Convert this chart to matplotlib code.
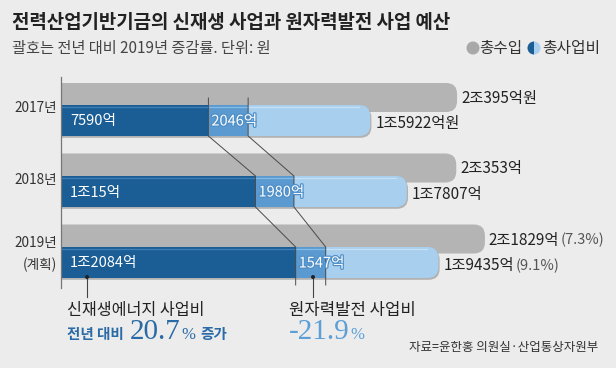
import matplotlib
matplotlib.use('Agg')
import matplotlib.pyplot as plt
from matplotlib.patches import FancyBboxPatch, Circle, Wedge
import matplotlib.patheffects as pe

plt.rcParams['font.family'] = ['Noto Sans CJK KR', 'DejaVu Sans']

# data (단위: 억원)
years = ['2017년', '2018년', '2019년']
renew = [7590, 10015, 12084]          # 신재생에너지 사업비
nuclear = [2046, 1980, 1547]          # 원자력발전 사업비
total_exp = [15922, 17807, 19435]     # 총사업비
revenue = [20395, 20353, 21829]       # 총수입
renew_labels = ['7590억', '1조15억', '1조2084억']
nuclear_labels = ['2046억', '1980억', '1547억']
exp_labels = ['1조5922억원', '1조7807억', '1조9435억']
rev_labels = ['2조395억원', '2조353억', '2조1829억']
rev_pct = ['', '', '(7.3%)']
exp_pct = ['', '', '(9.1%)']

BG = '#ececec'
GRAY = '#b4b4b4'
DARK = '#1b5e95'
MID = '#5a9ad0'
LIGHT = '#a9cfee'
TXT = '#222222'

W, H = 616, 368
fig = plt.figure(figsize=(W / 100, H / 100), dpi=100, facecolor=BG)
renderer = fig.canvas.get_renderer()

# main axes: x in 억원, y in pixels from top
X0 = 61
K = 1 / 0.01942  # 억원 per pixel
ax = fig.add_axes([X0 / W, 0, (W - X0) / W, 1])
ax.set_xlim(0, (W - X0) * K)
ax.set_ylim(H, 0)
ax.axis('off')

# overlay axes in pixels for free text
ov = fig.add_axes([0, 0, 1, 1], zorder=5)
ov.set_xlim(0, W)
ov.set_ylim(H, 0)
ov.axis('off')
ov.patch.set_alpha(0)

gray_y = [97.5, 168, 239]
blue_y = [120.5, 191.5, 262.5]
gh, bh = 29, 31
R = 11 * K


def rounded(x_end, yc, h, color, z, shadow=True):
    if shadow:
        s = FancyBboxPatch((-R, yc - h / 2 + 1.8), x_end + R + 1.2 * K, h,
                           boxstyle='round,pad=0,rounding_size=%f' % R,
                           mutation_aspect=1 / K, fc='#8c8c8c', ec='none',
                           zorder=z - 0.5, alpha=0.6)
        ax.add_patch(s)
    p = FancyBboxPatch((-R, yc - h / 2), x_end + R, h,
                       boxstyle='round,pad=0,rounding_size=%f' % R,
                       mutation_aspect=1 / K, fc=color, ec='none', zorder=z)
    ax.add_patch(p)


def fit(t, width):
    # scale font so the text is `width` pixels wide
    bb = t.get_window_extent(renderer=renderer)
    t.set_fontsize(t.get_fontsize() * width / bb.width)
    return t


def seq(parts, x, y):
    # place text pieces one after another on the same baseline
    for s, gap, kw in parts:
        x += gap
        t = ov.text(x, y, s, ha='left', va='baseline', **kw)
        bb = t.get_window_extent(renderer=renderer)
        x = ov.transData.inverted().transform((bb.x1, bb.y0))[0]


for i in range(3):
    rounded(revenue[i], gray_y[i], gh, GRAY, 1, shadow=False)
    rounded(total_exp[i], blue_y[i], bh, LIGHT, 3)
ax.barh(blue_y, renew, height=bh, color=DARK, zorder=4)
ax.barh(blue_y, nuclear, left=renew, height=bh, color=MID, zorder=4)
# highlight line at top of blue bars
for i in range(3):
    hy = [blue_y[i] - bh / 2 + 2.2] * 2
    ax.plot([0, renew[i]], hy, color='#3f7fb6', lw=0.9, zorder=4.5)
    ax.plot([renew[i], renew[i] + nuclear[i]], hy, color='#86bbe6', lw=0.9, zorder=4.5)
    ax.plot([renew[i] + nuclear[i], total_exp[i] - R], hy, color='#c6e0f5', lw=0.9, zorder=4.5)

# connector lines
ends = [renew, [r + n for r, n in zip(renew, nuclear)]]
for e in ends:
    xs = [e[0], e[0], e[1], e[1], e[2], e[2]]
    ys = [98, blue_y[0] + bh / 2, blue_y[1] - bh / 2, blue_y[1] + bh / 2,
          blue_y[2] - bh / 2, 285]
    ax.plot(xs, ys, color='#4a4a4a', lw=0.7, zorder=6)

# axis line
ax.plot([0, 0], [77, 288], color='#777777', lw=0.9, zorder=7, clip_on=False)

# labels
for i in range(3):
    ax.text(9 * K, blue_y[i] + 1, renew_labels[i], color='white', fontsize=10.5,
            va='center', ha='left', zorder=8)
    ax.text(renew[i] + 3 * K, blue_y[i] + 1, nuclear_labels[i], color='white',
            fontsize=10.5, va='center', ha='left', zorder=8,
            path_effects=[pe.withStroke(linewidth=1.8, foreground='#4f8fc8')])
    t = ax.text(revenue[i] + 4 * K, gray_y[i] + 1, rev_labels[i], color=TXT,
                fontsize=11, va='center', ha='left')
    if rev_pct[i]:
        ax.annotate(rev_pct[i], xycoords=t, xy=(1, 0.5), xytext=(1, 0),
                    textcoords='offset points', fontsize=10.5, color='#555555',
                    va='center', ha='left')
    t = ax.text(total_exp[i] + 5 * K, blue_y[i] + 3, exp_labels[i], color=TXT,
                fontsize=11, va='center', ha='left')
    if exp_pct[i]:
        ax.annotate(exp_pct[i], xycoords=t, xy=(1, 0.5), xytext=(1, 0),
                    textcoords='offset points', fontsize=10.5, color='#555555',
                    va='center', ha='left')

year_y = [108, 180, 243]
for i in range(3):
    ov.text(57, year_y[i], years[i], fontsize=9.8, color='#333333', ha='right', va='center')
ov.text(57, 265, '(계획)', fontsize=9.8, color='#333333', ha='right', va='center')

# title / subtitle
fit(ov.text(12, 22, '전력산업기반기금의 신재생 사업과 원자력발전 사업 예산', fontsize=13.6,
            fontweight='bold', color='#222222', ha='left', va='center'), 440)
fit(ov.text(12, 48, '괄호는 전년 대비 2019년 증감률. 단위: 원', fontsize=11,
            color='#444444', ha='left', va='center'), 258)

# legend
ov.add_patch(Circle((473, 48), 6.5, fc='#a8a8a8', ec='none'))
fit(ov.text(479, 48, '총수입', fontsize=11, color='#333333', ha='left', va='center'), 43)
ov.add_patch(Wedge((534, 48), 6.5, 90, 270, fc=DARK, ec='none'))
ov.add_patch(Wedge((534, 48), 6.5, -90, 90, fc=LIGHT, ec='none'))
fit(ov.text(542, 48, '총사업비', fontsize=11, color='#333333', ha='left', va='center'), 58)

# annotations
for x in (87, 313):
    ov.plot([x, x], [277, 297], color='#444444', lw=0.8)
    ov.add_patch(Circle((x, 277), 2, fc='#222222', ec='none', zorder=6))

BLUE_T = '#2a6aa6'
NUC_T = '#5b9fd6'
fit(ov.text(67, 311, '신재생에너지 사업비', fontsize=12, color='#222222',
            ha='left', va='center'), 138)
seq([('전년 대비', 0, dict(fontsize=10.5, fontweight='bold', color=BLUE_T)),
     ('20.7', 6, dict(fontsize=21, family='Liberation Serif', color=BLUE_T)),
     ('%', 0.5, dict(fontsize=12, family='Liberation Serif', color=BLUE_T)),
     ('증가', 5, dict(fontsize=10.5, fontweight='bold', color=BLUE_T))], 67, 339)

fit(ov.text(289, 311, '원자력발전 사업비', fontsize=12, color='#222222',
            ha='left', va='center'), 127)
seq([('-21.9', 0, dict(fontsize=21, family='Liberation Serif', color=NUC_T)),
     ('%', 0.5, dict(fontsize=12, family='Liberation Serif', color=NUC_T))], 289, 339)

ov.text(598, 347, '자료=윤한홍 의원실·산업통상자원부', fontsize=9, color='#333333',
        ha='right', va='center')

fig.savefig('out.png', dpi=100, facecolor=BG)
